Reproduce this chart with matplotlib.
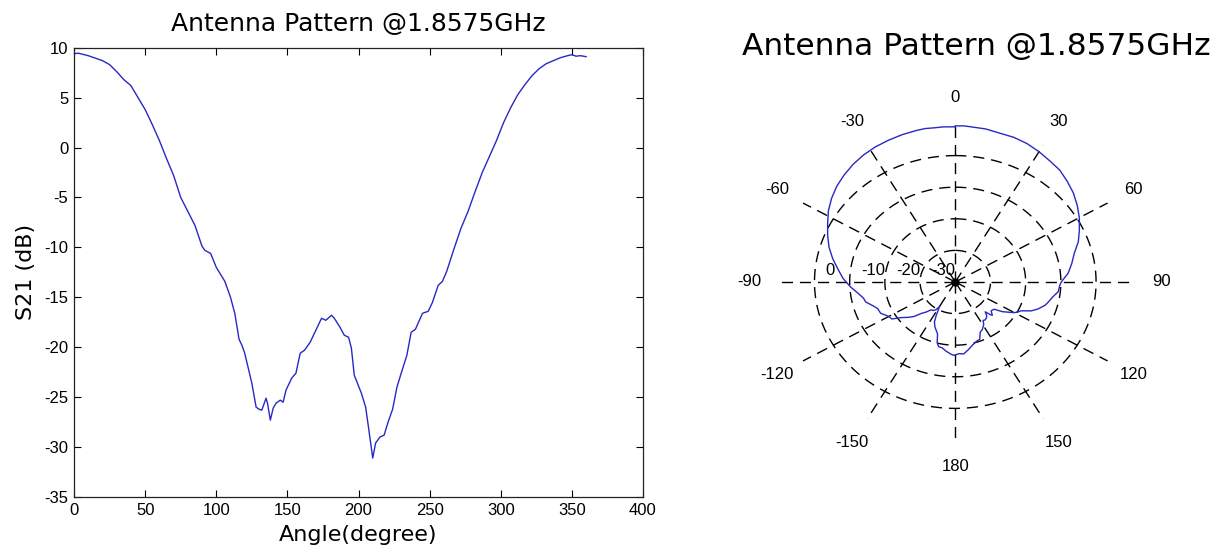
import numpy as np
import matplotlib
matplotlib.use("Agg")
import matplotlib.pyplot as plt
from matplotlib.transforms import offset_copy

angle = [0, 3, 10, 20, 25, 30, 35, 40, 45, 50, 55, 60, 65, 70, 75, 80, 85, 90, 92, 96,
         100, 103, 106, 110, 113, 116, 118, 120, 125, 128, 130, 132, 135, 136, 138, 140,
         142, 145, 147, 149, 153, 156, 159, 162, 166, 170, 174, 177, 181, 183, 187, 190,
         193, 195, 197, 202, 205, 207, 210, 212, 215, 218, 221, 224, 227, 230, 234, 237,
         240, 245, 249, 252, 256, 259, 262, 267, 272, 277, 282, 287, 292, 297, 302, 307,
         312, 317, 322, 327, 332, 337, 342, 347, 350, 353, 356, 360]
s21 = [9.4, 9.45, 9.2, 8.7, 8.3, 7.6, 6.8, 6.2, 5.0, 3.8, 2.3, 0.7, -1.1, -2.8, -5.0, -6.4,
       -7.8, -9.9, -10.3, -10.6, -12.0, -12.7, -13.4, -15.0, -16.6, -19.2, -19.8, -20.6,
       -23.6, -26.0, -26.2, -26.3, -25.1, -25.6, -27.3, -26.1, -25.6, -25.3, -25.5, -24.3,
       -23.1, -22.6, -20.6, -20.3, -19.5, -18.3, -17.1, -17.3, -16.8, -17.1, -18.0, -18.8,
       -19.0, -20.1, -22.8, -24.6, -26.0, -28.0, -31.1, -29.6, -29.0, -28.8, -27.4, -26.2,
       -24.0, -22.6, -20.8, -18.5, -18.2, -16.6, -16.4, -15.5, -13.8, -13.4, -12.4, -10.2,
       -8.1, -6.4, -4.4, -2.5, -0.9, 0.7, 2.5, 4.0, 5.3, 6.3, 7.2, 7.9, 8.4, 8.7, 9.0, 9.2,
       9.3, 9.15, 9.2, 9.1]

title = "Antenna Pattern @1.8575GHz"
ring_db = [-30, -20, -10, 0]
db_offset = 40          # polar radius = dB + 40
r_max = 50
spoke_deg = [0, 30, 60, 90, 120, 150, 180, 210, 240, 270, 300, 330]
spoke_labels = ["0", "30", "60", "90", "120", "150", "180", "-150", "-120", "-90", "-60", "-30"]

plt.rcParams["axes.unicode_minus"] = False
tick_font = {"family": "Liberation Sans", "size": 12}
line_color = "#2828c4"

fig = plt.figure(figsize=(12.18, 5.52), dpi=100)

# cartesian plot
ax1 = fig.add_axes([0.0608, 0.0996, 0.4671, 0.8140])
ax1.plot(angle, s21, color=line_color, lw=1.0)
ax1.set_xlim(0, 400)
ax1.set_ylim(-35, 10)
ax1.set_xticks(np.arange(0, 401, 50))
ax1.set_yticks(np.arange(-35, 11, 5))
ax1.tick_params(direction="in", top=True, right=True, length=5, width=0.8, pad=4)
for lab in ax1.get_xticklabels() + ax1.get_yticklabels():
    lab.set_fontfamily(tick_font["family"])
    lab.set_fontsize(tick_font["size"])
for sp in ax1.spines.values():
    sp.set_linewidth(0.9)
    sp.set_color("#222222")
ax1.set_title(title, fontsize=18, family="DejaVu Sans", pad=12)
ax1.set_xlabel("Angle(degree)", fontsize=16, family="DejaVu Sans", labelpad=5)
ax1.set_ylabel("S21 (dB)", fontsize=16, family="DejaVu Sans", labelpad=6)

# polar plot
ax2 = fig.add_axes([0.6398, 0.2029, 0.2890, 0.5725], projection="polar")
ax2.set_theta_zero_location("N")
ax2.set_theta_direction(-1)
ax2.set_ylim(0, r_max)
ax2.set_aspect("auto")
ax2.axis("off")

dash = (0, (8, 5))
circ = np.linspace(0, 2 * np.pi, 361)
for d in ring_db:
    ax2.plot(circ, np.full_like(circ, d + db_offset), color="black", lw=1.0, ls=dash)
for a, lab in zip(spoke_deg, spoke_labels):
    t = np.deg2rad(a)
    ax2.plot([t, t], [0, r_max], color="black", lw=1.0, ls=dash)
    ax2.text(t, r_max * 1.17, lab, ha="center", va="center", **tick_font)

tr = offset_copy(ax2.transData, fig=fig, x=8, y=8.5, units="points")
for d in ring_db:
    ax2.text(np.deg2rad(270), d + db_offset, str(d), transform=tr,
             ha="left", va="center", **tick_font)

ax2.plot(np.deg2rad(angle), np.array(s21) + db_offset, color=line_color, lw=1.0)
ax2.plot([0], [0], "o", color="black", ms=5)
ax2.set_title(title, fontsize=22.5, family="DejaVu Sans", x=0.56, y=1.244,
              va="center", pad=0)

fig.savefig("out.png", dpi=100)
